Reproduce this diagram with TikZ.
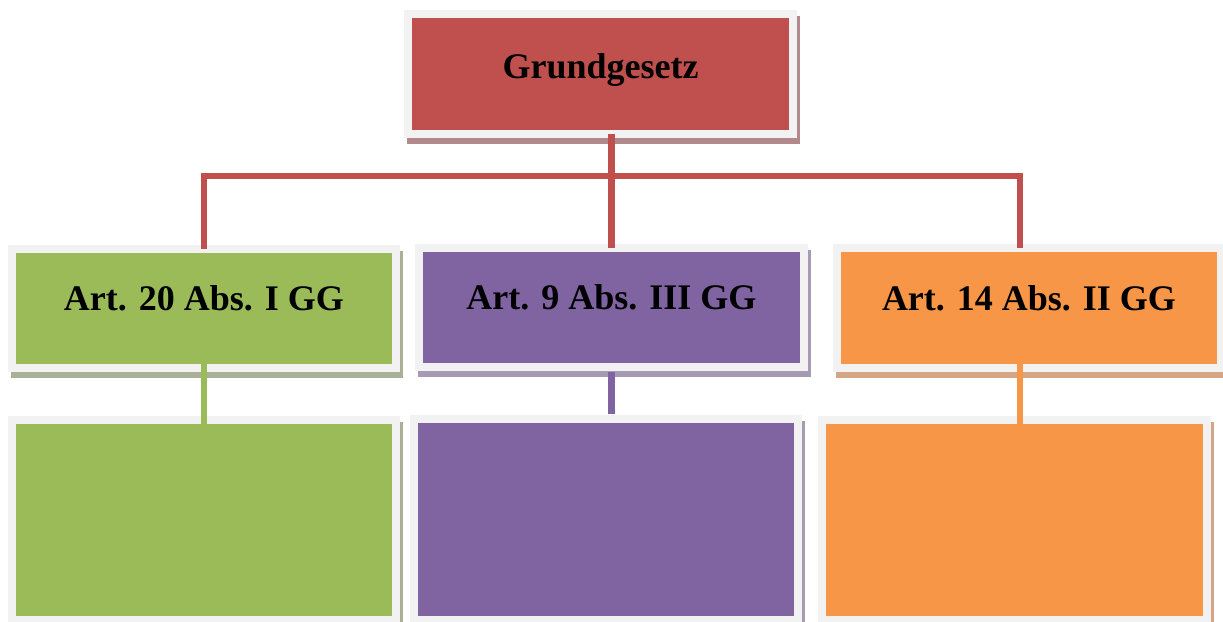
\documentclass[tikz,border=0pt]{standalone}
\usepackage{fontspec}
\setmainfont{Liberation Serif}
\usetikzlibrary{backgrounds}
\definecolor{cred}{HTML}{C0504D}
\definecolor{cgreen}{HTML}{9BBB59}
\definecolor{cpurple}{HTML}{8064A2}
\definecolor{corange}{HTML}{F79646}
\definecolor{cframe}{HTML}{F2F2F2}
\definecolor{sred}{HTML}{B38A8B}
\definecolor{sgreen}{HTML}{A8B096}
\definecolor{spurple}{HTML}{A69AB4}
\definecolor{sorange}{HTML}{D5A686}
\tikzset{
  box/.style={draw=cframe, line width=8pt, outer sep=0pt, inner sep=0pt,
    rectangle, text height=24pt, text depth=20pt,
    font=\fontsize{36}{40}\selectfont\bfseries},
  conn/.style={line width=6.5pt},
}
\begin{document}
\begin{tikzpicture}[x=1pt,y=-1pt]
\useasboundingbox (0,0) rectangle (1223,621);
\node[box, fill=cred, minimum width=385pt, minimum height=120pt, text depth=16pt] (top) at (600.5,74) {Grundgesetz};
\node[box, fill=cgreen, minimum width=384pt, minimum height=119pt] (g1) at (204,308.5) {Art. 20 Abs. I GG};
\node[box, fill=cpurple, minimum width=385pt, minimum height=119pt] (p1) at (611.5,307.5) {Art. 9 Abs. III GG};
\node[box, fill=corange, minimum width=384pt, minimum height=120pt] (o1) at (1029,308) {Art. 14 Abs. II GG};
\node[box, fill=cgreen, minimum width=384pt, minimum height=200pt] (g2) at (204,520) {};
\node[box, fill=cpurple, minimum width=384pt, minimum height=201pt] (p2) at (606,519.5) {};
\node[box, fill=corange, minimum width=385pt, minimum height=200pt] (o2) at (1014.5,520) {};
\begin{scope}[on background layer]
  \foreach \n/\c in {top/sred, g1/sgreen, p1/spurple, o1/sorange, g2/sgreen, p2/spurple, o2/sorange}{
    \fill[\c] ([shift={(-1pt,-10pt)}]\n.south west) rectangle ([shift={(7pt,-2pt)}]\n.north east);
  }
\end{scope}
\coordinate (bar) at (0,176);
\coordinate (topc) at ([xshift=11pt]top.south);
\coordinate (o1n) at ([xshift=-9pt]o1.north);
\coordinate (o1s) at ([xshift=-9pt]o1.south);
\draw[conn, cred] (topc) -- (topc |- bar);
\draw[conn, cred] (g1.north) -- (g1.north |- bar) -- (o1n |- bar) -- (o1n);
\draw[conn, cred] (p1.north) -- (p1.north |- bar);
\draw[conn, cgreen, shorten <=-4pt, shorten >=-4pt] (g1.south) -- (g2.north);
\draw[conn, cpurple, shorten <=5pt, shorten >=5pt] (p1.south) -- (p1.south |- p2.north);
\draw[conn, corange, shorten <=-4pt, shorten >=-4pt] (o1s) -- (o1s |- o2.north);
\end{tikzpicture}
\end{document}
